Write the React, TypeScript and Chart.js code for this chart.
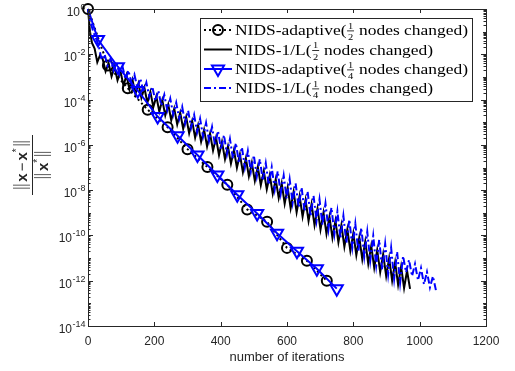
import React, { useEffect, useRef } from "react";
import { Chart, registerables } from "chart.js";

Chart.register(...registerables);

// ---------- data ----------
const X_TICKS = [0, 200, 400, 600, 800, 1000, 1200];
const Y_TICK_EXPS = [0, -2, -4, -6, -8, -10, -12, -14];
const X_TITLE = "number of iterations";

// NIDS-adaptive (1/2 nodes changed): iterations and log10 of relative error
const adaptHalfIters = [0, 60, 120, 180, 240, 300, 360, 420, 480, 540, 600, 660, 720];
const adaptHalfExp = [0, -2.5, -3.5, -4.45, -5.22, -6.19, -6.98, -7.76, -8.85, -9.4, -10.55, -11.12, -12.0];

// NIDS-adaptive (1/4 nodes changed)
const adaptQuarterIters = [0, 30, 90, 150, 210, 270, 330, 390, 450, 510, 570, 630, 690, 750];
const adaptQuarterExp = [0, -1.35, -2.55, -3.6, -4.75, -5.6, -6.45, -7.33, -8.2, -9.03, -9.9, -10.7, -11.47, -12.35];

// NIDS-1/L (1/2 nodes changed): start, then oscillation peaks / dips
const lHalfHeadIters = [0, 6, 12, 20, 28, 36];
const lHalfHeadExp = [0, -1.0, -1.5, -1.75, -2.35, -2.05];
const lHalfFirst = 44;
const lHalfPeriod = 18;
const lHalfPeaks = [
  -2.2, -2.39, -2.56, -2.76, -2.92, -3.12, -3.29, -3.48, -3.66, -3.86,
  -4.02, -4.22, -4.4, -4.58, -4.77, -4.95, -5.13, -5.33, -5.5, -5.69,
  -5.87, -6.06, -6.23, -6.42, -6.6, -6.79, -6.97, -7.15, -7.34, -7.52,
  -7.7, -7.89, -8.07, -8.26, -8.44, -8.62, -8.81, -8.99, -9.17, -9.36,
  -9.54, -9.73, -9.91, -10.09, -10.27, -10.46, -10.64, -10.83, -11.01, -11.19,
  -11.38, -11.56,
];
const lHalfDips = [
  -2.75, -2.98, -3.15, -3.38, -3.55, -3.76, -3.93, -4.14, -4.33, -4.53,
  -4.7, -4.92, -5.1, -5.29, -5.49, -5.68, -5.86, -6.07, -6.25, -6.45,
  -6.63, -6.83, -7.01, -7.21, -7.39, -7.59, -7.78, -7.96, -8.16, -8.34,
  -8.6, -8.8, -8.98, -9.17, -9.36, -9.55, -9.74, -9.93, -10.11, -10.3,
  -10.5, -10.68, -10.87, -11.06, -11.25, -11.43, -11.62, -11.8, -12.0, -12.18,
  -12.32, -12.36,
];

// NIDS-1/L (1/4 nodes changed)
const lQuarterHeadIters = [0, 8, 16, 24, 32, 41];
const lQuarterHeadExp = [0, -0.6, -1.0, -1.3, -1.6, -2.25];
const lQuarterFirst = 50;
const lQuarterPeriod = 18;
const lQuarterPeaks = [
  -2.0, -2.19, -2.36, -2.54, -2.71, -2.9, -3.07, -3.25, -3.43, -3.6,
  -3.79, -3.96, -4.14, -4.32, -4.49, -4.68, -4.85, -5.03, -5.21, -5.38,
  -5.57, -5.74, -5.92, -6.1, -6.27, -6.46, -6.63, -6.81, -6.99, -7.16,
  -7.35, -7.52, -7.7, -7.88, -8.05, -8.24, -8.41, -8.59, -8.77, -8.94,
  -9.13, -9.3, -9.48, -9.66, -9.83, -10.02, -10.19, -10.37, -10.55, -10.72,
  -10.91, -11.08, -11.26, -11.44, -11.61, -11.8,
];
const lQuarterDips = [
  -2.5, -2.71, -2.9, -3.1, -3.28, -3.49, -3.68, -3.88, -4.07, -4.26,
  -4.47, -4.66, -4.85, -5.05, -5.24, -5.44, -5.63, -5.82, -6.02, -6.21,
  -6.41, -6.6, -6.8, -6.99, -7.18, -7.39, -7.58, -7.77, -7.97, -8.16,
  -8.37, -8.56, -8.76, -8.95, -9.14, -9.35, -9.54, -9.74, -9.94, -10.13,
  -10.34, -10.53, -10.73, -10.93, -11.12, -11.33, -11.52, -11.72, -11.92, -12.1,
  -11.63, -11.8, -11.98, -12.16, -12.3, -12.42,
];

const legendNames = ["NIDS-adaptive(", "NIDS-1/L(", "NIDS-adaptive(", "NIDS-1/L("];
const legendDenoms = ["2", "2", "4", "4"];
const legendSuffix = " nodes changed)";

// ---------- helpers ----------
type P = { x: number; y: number };
const pts = (iters: number[], exps: number[]): P[] =>
  iters.map((x, i) => ({ x, y: Math.pow(10, exps[i]) }));

function oscPoints(hi: number[], he: number[], first: number, period: number, peaks: number[], dips: number[]): P[] {
  const out = pts(hi, he);
  peaks.forEach((p, k) => {
    out.push({ x: first + k * period, y: Math.pow(10, p) });
    out.push({ x: first + k * period + period / 2, y: Math.pow(10, dips[k]) });
  });
  return out;
}

const SANS = "'Liberation Sans', Arial, Helvetica, sans-serif";
const SERIF = "'Liberation Serif', 'Times New Roman', serif";
const AXIS = "#262626";
const BLUE = "#0000ff";

function drawCircle(ctx: CanvasRenderingContext2D, x: number, y: number, r: number, color: string) {
  ctx.save();
  ctx.setLineDash([]);
  ctx.strokeStyle = color;
  ctx.lineWidth = 2;
  ctx.beginPath();
  ctx.arc(x, y, r, 0, Math.PI * 2);
  ctx.stroke();
  ctx.restore();
}

function drawTriDown(ctx: CanvasRenderingContext2D, x: number, y: number, r: number, color: string) {
  ctx.save();
  ctx.setLineDash([]);
  ctx.strokeStyle = color;
  ctx.lineWidth = 2;
  ctx.beginPath();
  const a0 = Math.PI / 2;
  for (let i = 0; i < 3; i++) {
    const a = a0 + (i * 2 * Math.PI) / 3;
    const px = x + Math.cos(a) * r;
    const py = y + Math.sin(a) * r;
    if (i === 0) ctx.moveTo(px, py);
    else ctx.lineTo(px, py);
  }
  ctx.closePath();
  ctx.stroke();
  ctx.restore();
}

const matlabPlugin = {
  id: "matlabLook",
  afterDraw(chart: any) {
    const ctx: CanvasRenderingContext2D = chart.ctx;
    const { left, right, top, bottom } = chart.chartArea;
    const xs = chart.scales.x;
    const ys = chart.scales.y;
    ctx.save();

    // axes box
    ctx.strokeStyle = AXIS;
    ctx.lineWidth = 1;
    ctx.setLineDash([]);
    ctx.strokeRect(left + 0.5, top + 0.5, right - left, bottom - top);

    // x ticks
    ctx.beginPath();
    X_TICKS.forEach((v) => {
      const px = Math.round(xs.getPixelForValue(v)) + 0.5;
      ctx.moveTo(px, bottom);
      ctx.lineTo(px, bottom - 4);
      ctx.moveTo(px, top);
      ctx.lineTo(px, top + 4);
    });
    // y ticks
    for (let e = -14; e <= 0; e++) {
      const py = Math.round(ys.getPixelForValue(Math.pow(10, e))) + 0.5;
      const len = e % 2 === 0 ? 5 : 3;
      ctx.moveTo(left, py);
      ctx.lineTo(left + len, py);
      ctx.moveTo(right, py);
      ctx.lineTo(right - len, py);
      if (e < 0) {
        for (let m = 2; m <= 9; m++) {
          const pm = Math.round(ys.getPixelForValue(m * Math.pow(10, e))) + 0.5;
          ctx.moveTo(left, pm);
          ctx.lineTo(left + 2.5, pm);
          ctx.moveTo(right, pm);
          ctx.lineTo(right - 2.5, pm);
        }
      }
    }
    ctx.stroke();

    ctx.fillStyle = AXIS;
    ctx.textBaseline = "alphabetic";
    ctx.font = `12px ${SANS}`;
    ctx.textAlign = "center";
    X_TICKS.forEach((v) => {
      ctx.fillText(String(v), xs.getPixelForValue(v), 345);
    });
    ctx.font = `13px ${SANS}`;
    ctx.fillText(X_TITLE, (left + right) / 2, 361);

    // y tick labels 10^e
    ctx.textAlign = "left";
    Y_TICK_EXPS.forEach((e) => {
      const py = ys.getPixelForValue(Math.pow(10, e));
      ctx.font = `12px ${SANS}`;
      const bw = ctx.measureText("10").width;
      const es = String(e);
      ctx.font = `9px ${SANS}`;
      const ew = ctx.measureText(es).width;
      const x0 = left - 3 - bw - ew;
      ctx.font = `12px ${SANS}`;
      ctx.fillText("10", x0, py + 7);
      ctx.font = `9px ${SANS}`;
      ctx.fillText(es, x0 + bw + 0.5, py + 1);
    });

    // y-axis label: rotated fraction ||x - x*|| / ||x*||
    ctx.save();
    ctx.translate(32, 165);
    ctx.rotate(-Math.PI / 2);
    ctx.strokeStyle = AXIS;
    ctx.fillStyle = AXIS;
    ctx.lineWidth = 1;
    ctx.beginPath();
    ctx.moveTo(-30, 0.5);
    ctx.lineTo(30, 0.5);
    ctx.stroke();
    const drawNorm = (withMinus: boolean, baseline: number) => {
      const bold = `bold 15px ${SANS}`;
      const reg = `15px ${SANS}`;
      const small = `10px ${SANS}`;
      ctx.font = bold;
      const xw = ctx.measureText("x").width;
      ctx.font = reg;
      const mw = ctx.measureText("\u2212").width;
      ctx.font = small;
      const sw = ctx.measureText("*").width;
      const gap = 2;
      const inner = withMinus ? xw + gap + mw + gap + xw + sw : xw + sw;
      const barGap = 3;
      const total = inner + 2 * (barGap + 4);
      let x = -total / 2;
      const drawBars = (bx: number) => {
        ctx.save();
        ctx.strokeStyle = "#5a5a5a";
        ctx.lineWidth = 1;
        ctx.beginPath();
        ctx.moveTo(bx + 0.5, baseline - 14);
        ctx.lineTo(bx + 0.5, baseline + 3);
        ctx.moveTo(bx + 3.5, baseline - 14);
        ctx.lineTo(bx + 3.5, baseline + 3);
        ctx.stroke();
        ctx.restore();
      };
      drawBars(x);
      x += 4 + barGap;
      if (withMinus) {
        ctx.font = bold;
        ctx.fillText("x", x, baseline);
        x += xw + gap;
        ctx.font = reg;
        ctx.fillText("\u2212", x, baseline);
        x += mw + gap;
      }
      ctx.font = bold;
      ctx.fillText("x", x, baseline);
      x += xw;
      ctx.font = small;
      ctx.fillText("*", x, baseline - 7);
      x += sw + barGap;
      drawBars(x);
    };
    ctx.textAlign = "left";
    drawNorm(true, -5);
    drawNorm(false, 16);
    ctx.restore();

    // legend
    const lx0 = 200, ly0 = 18, lx1 = 472, ly1 = 101;
    ctx.fillStyle = "#ffffff";
    ctx.fillRect(lx0, ly0, lx1 - lx0, ly1 - ly0);
    ctx.strokeStyle = AXIS;
    ctx.lineWidth = 1;
    ctx.strokeRect(lx0 + 0.5, ly0 + 0.5, lx1 - lx0, ly1 - ly0);

    const rows = [30, 49.5, 69, 88];
    const sx0 = 204, sx1 = 232, smid = 218;
    rows.forEach((cy, i) => {
      ctx.save();
      ctx.lineWidth = 2;
      ctx.strokeStyle = i < 2 ? "#000" : BLUE;
      if (i === 0) ctx.setLineDash([2, 3]);
      else if (i === 3) ctx.setLineDash([7, 3, 2, 3]);
      else ctx.setLineDash([]);
      ctx.beginPath();
      ctx.moveTo(sx0, cy);
      ctx.lineTo(sx1, cy);
      ctx.stroke();
      ctx.restore();
      if (i === 0) drawCircle(ctx, smid, cy, 5, "#000");
      if (i === 2) drawTriDown(ctx, smid, cy, 7, BLUE);
    });

    ctx.font = `15px ${SERIF}`;
    const fracW = 7;
    const w1 = ctx.measureText(legendNames[0]).width + fracW + ctx.measureText(legendSuffix).width;
    const sx = 233 / w1;
    ctx.fillStyle = "#000";
    rows.forEach((cy, i) => {
      const base = cy + 5;
      ctx.save();
      ctx.translate(235, base);
      ctx.scale(sx, 1);
      ctx.font = `15px ${SERIF}`;
      ctx.textAlign = "left";
      ctx.fillText(legendNames[i], 0, 0);
      const pw = ctx.measureText(legendNames[i]).width;
      ctx.font = `9px ${SERIF}`;
      ctx.textAlign = "center";
      ctx.fillText("1", pw + fracW / 2, -6.5);
      ctx.fillText(legendDenoms[i], pw + fracW / 2, 5);
      ctx.fillRect(pw + 0.5, -4.5, fracW - 1, 0.8);
      ctx.font = `15px ${SERIF}`;
      ctx.textAlign = "left";
      ctx.fillText(legendSuffix, pw + fracW, 0);
      ctx.restore();
    });

    ctx.restore();
  },
};

export default function App() {
  const ref = useRef<HTMLCanvasElement | null>(null);
  useEffect(() => {
    const canvas = ref.current;
    if (!canvas) return;
    const adaptHalf = pts(adaptHalfIters, adaptHalfExp);
    const adaptQuarter = pts(adaptQuarterIters, adaptQuarterExp);
    const lHalf = oscPoints(lHalfHeadIters, lHalfHeadExp, lHalfFirst, lHalfPeriod, lHalfPeaks, lHalfDips);
    const lQuarter = oscPoints(lQuarterHeadIters, lQuarterHeadExp, lQuarterFirst, lQuarterPeriod, lQuarterPeaks, lQuarterDips);

    const chart = new Chart(canvas, {
      type: "line",
      data: {
        datasets: [
          {
            data: adaptHalf,
            borderColor: "#000",
            borderWidth: 2,
            borderDash: [2, 3],
            pointStyle: "circle",
            pointRadius: 5,
            pointBorderWidth: 2,
            pointBorderColor: "#000",
            pointBackgroundColor: "rgba(0,0,0,0)",
            order: 3,
            clip: false,
          },
          {
            data: lHalf,
            borderColor: "#000",
            borderWidth: 2,
            pointRadius: 0,
            order: 2,
            clip: false,
          },
          {
            data: adaptQuarter,
            borderColor: BLUE,
            borderWidth: 2,
            pointStyle: "triangle",
            pointRotation: 180,
            pointRadius: adaptQuarterIters.map((_, i) => (i === 0 ? 0 : 7)),
            pointBorderWidth: 2,
            pointBorderColor: BLUE,
            pointBackgroundColor: "rgba(0,0,0,0)",
            order: 1,
            clip: false,
          },
          {
            data: lQuarter,
            borderColor: BLUE,
            borderWidth: 2,
            borderDash: [7, 3, 2, 3],
            pointRadius: 0,
            order: 0,
            clip: false,
          },
        ],
      } as any,
      options: {
        animation: false,
        responsive: false,
        devicePixelRatio: 1,
        events: [],
        layout: { padding: { left: 0, top: 5, right: 29, bottom: 0 } },
        plugins: { legend: { display: false }, tooltip: { enabled: false } },
        scales: {
          x: {
            type: "linear",
            min: 0,
            max: 1200,
            grid: { display: false },
            border: { display: false },
            ticks: { display: false },
            afterFit: (s: any) => {
              s.height = 45;
            },
          },
          y: {
            type: "logarithmic",
            min: 1e-14,
            max: 1,
            grid: { display: false },
            border: { display: false },
            ticks: { display: false },
            afterFit: (s: any) => {
              s.width = 88;
            },
          },
        },
      } as any,
      plugins: [matlabPlugin],
    });
    return () => chart.destroy();
  }, []);

  return (
    <div style={{ position: "absolute", left: 0, top: 0, width: 515, height: 371, background: "#fff" }}>
      <canvas ref={ref} width={515} height={371} style={{ width: 515, height: 371, display: "block" }} />
    </div>
  );
}
